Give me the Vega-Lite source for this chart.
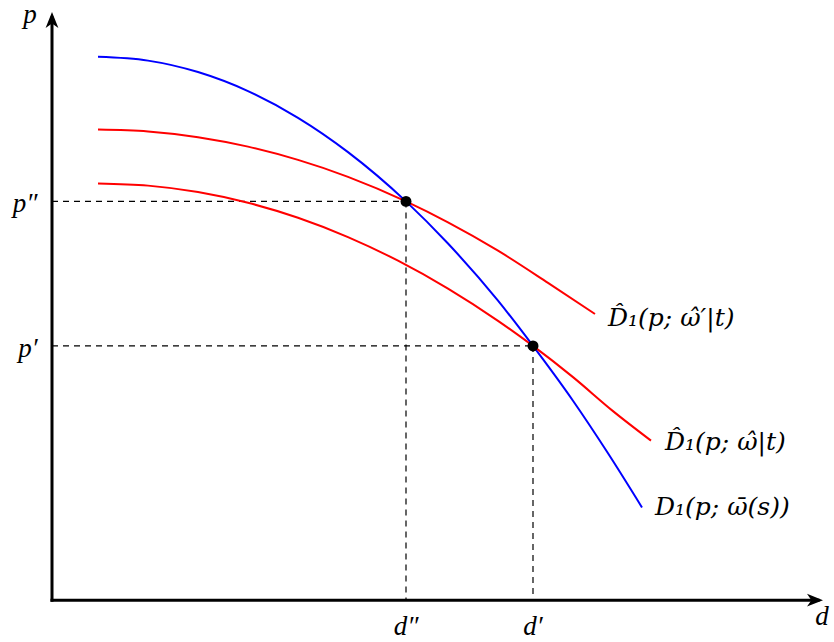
{
  "$schema": "https://vega.github.io/schema/vega-lite/v6.json",
  "width": 834,
  "height": 642,
  "autosize": {"type": "fit", "contains": "padding"},
  "padding": 0,
  "background": "white",
  "config": {"view": {"stroke": null}},
  "datasets": {
    "curves": [
      {"s": "D", "x": 46, "y": 545}, {"s": "D", "x": 96, "y": 541.2}, {"s": "D", "x": 146, "y": 529.7},
      {"s": "D", "x": 196, "y": 510.6}, {"s": "D", "x": 246, "y": 483.8}, {"s": "D", "x": 296, "y": 449.4},
      {"s": "D", "x": 354, "y": 400}, {"s": "D", "x": 396, "y": 357.7}, {"s": "D", "x": 446, "y": 300.4},
      {"s": "D", "x": 481, "y": 255}, {"s": "D", "x": 521, "y": 200}, {"s": "D", "x": 556, "y": 147.3},
      {"s": "D", "x": 590, "y": 93},
      {"s": "U", "x": 46, "y": 472}, {"s": "U", "x": 96, "y": 470.1}, {"s": "U", "x": 146, "y": 464.4},
      {"s": "U", "x": 196, "y": 454.9}, {"s": "U", "x": 246, "y": 441.6}, {"s": "U", "x": 296, "y": 424.6},
      {"s": "U", "x": 354, "y": 400}, {"s": "U", "x": 396, "y": 379}, {"s": "U", "x": 446, "y": 350.6},
      {"s": "U", "x": 496, "y": 318.3}, {"s": "U", "x": 543, "y": 287},
      {"s": "L", "x": 46, "y": 418}, {"s": "L", "x": 96, "y": 415.8}, {"s": "L", "x": 146, "y": 409.4},
      {"s": "L", "x": 196, "y": 398.6}, {"s": "L", "x": 246, "y": 383.6}, {"s": "L", "x": 296, "y": 364.2},
      {"s": "L", "x": 346, "y": 340.5}, {"s": "L", "x": 396, "y": 312.5}, {"s": "L", "x": 446, "y": 280.2},
      {"s": "L", "x": 481, "y": 255}, {"s": "L", "x": 521, "y": 223.7}, {"s": "L", "x": 561, "y": 189.6},
      {"s": "L", "x": 599, "y": 160}
    ],
    "dashes": [
      {"x": 0, "y": 400, "x2": 354, "y2": 400},
      {"x": 354, "y": 400, "x2": 354, "y2": 0},
      {"x": 0, "y": 255, "x2": 481, "y2": 255},
      {"x": 481, "y": 255, "x2": 481, "y2": 0}
    ],
    "points": [{"x": 354, "y": 400}, {"x": 481, "y": 255}],
    "axes": [
      {"x": 0, "y": 0, "x2": 766, "y2": 0},
      {"x": 0, "y": 0, "x2": 0, "y2": 584}
    ],
    "arrows": [
      {"x": 763, "y": 0, "dir": "right"},
      {"x": 0, "y": 582, "dir": "up"}
    ],
    "axisLabels": [
      {"x": -22, "y": 587, "t": "p"},
      {"x": 770, "y": -17, "t": "d"},
      {"x": -27, "y": 397, "t": "p″"},
      {"x": -24, "y": 252, "t": "p′"},
      {"x": 354, "y": -27, "t": "d″"},
      {"x": 481, "y": -27, "t": "d′"}
    ],
    "curveLabels": [
      {"x": 556, "y": 283, "t": "D̂₁(p; ω̂′|t)"},
      {"x": 613, "y": 159, "t": "D̂₁(p; ω̂|t)"},
      {"x": 603, "y": 93, "t": "D₁(p; ω̄(s))"}
    ]
  },
  "layer": [
    {
      "data": {"name": "dashes"},
      "mark": {"type": "rule", "color": "black", "strokeWidth": 1.2, "strokeDash": [6, 5]},
      "encoding": {
        "x": {"field": "x", "type": "quantitative", "scale": {"domain": [-52, 782], "nice": false, "zero": false}, "axis": null},
        "y": {"field": "y", "type": "quantitative", "scale": {"domain": [-42, 600], "nice": false, "zero": false}, "axis": null},
        "x2": {"field": "x2"},
        "y2": {"field": "y2"}
      }
    },
    {
      "data": {"name": "curves"},
      "mark": {"type": "line", "strokeWidth": 2, "interpolate": "monotone"},
      "encoding": {
        "x": {"field": "x", "type": "quantitative"},
        "y": {"field": "y", "type": "quantitative"},
        "color": {"field": "s", "type": "nominal", "scale": {"domain": ["D", "U", "L"], "range": ["#0000ff", "#ff0000", "#ff0000"]}, "legend": null}
      }
    },
    {
      "data": {"name": "axes"},
      "mark": {"type": "rule", "color": "black", "strokeWidth": 3, "strokeCap": "square"},
      "encoding": {
        "x": {"field": "x", "type": "quantitative"},
        "y": {"field": "y", "type": "quantitative"},
        "x2": {"field": "x2"},
        "y2": {"field": "y2"}
      }
    },
    {
      "data": {"name": "arrows"},
      "transform": [{"filter": "datum.dir == 'right'"}],
      "mark": {"type": "point", "filled": true, "color": "black", "opacity": 1, "size": 256, "shape": "M1,0 L-1,-0.8 L-0.45,0 L-1,0.8 Z"},
      "encoding": {
        "x": {"field": "x", "type": "quantitative"},
        "y": {"field": "y", "type": "quantitative"}
      }
    },
    {
      "data": {"name": "arrows"},
      "transform": [{"filter": "datum.dir == 'up'"}],
      "mark": {"type": "point", "filled": true, "color": "black", "opacity": 1, "size": 256, "shape": "M0,-1 L-0.8,1 L0,0.45 L0.8,1 Z"},
      "encoding": {
        "x": {"field": "x", "type": "quantitative"},
        "y": {"field": "y", "type": "quantitative"}
      }
    },
    {
      "data": {"name": "points"},
      "mark": {"type": "circle", "color": "black", "opacity": 1, "size": 120},
      "encoding": {
        "x": {"field": "x", "type": "quantitative"},
        "y": {"field": "y", "type": "quantitative"}
      }
    },
    {
      "data": {"name": "axisLabels"},
      "mark": {"type": "text", "align": "center", "baseline": "middle", "font": "Liberation Serif", "fontStyle": "italic", "fontSize": 27, "color": "black"},
      "encoding": {
        "x": {"field": "x", "type": "quantitative"},
        "y": {"field": "y", "type": "quantitative"},
        "text": {"field": "t"}
      }
    },
    {
      "data": {"name": "curveLabels"},
      "mark": {"type": "text", "align": "left", "baseline": "middle", "font": "DejaVu Serif", "fontStyle": "italic", "fontSize": 25, "color": "black"},
      "encoding": {
        "x": {"field": "x", "type": "quantitative"},
        "y": {"field": "y", "type": "quantitative"},
        "text": {"field": "t"}
      }
    }
  ]
}
